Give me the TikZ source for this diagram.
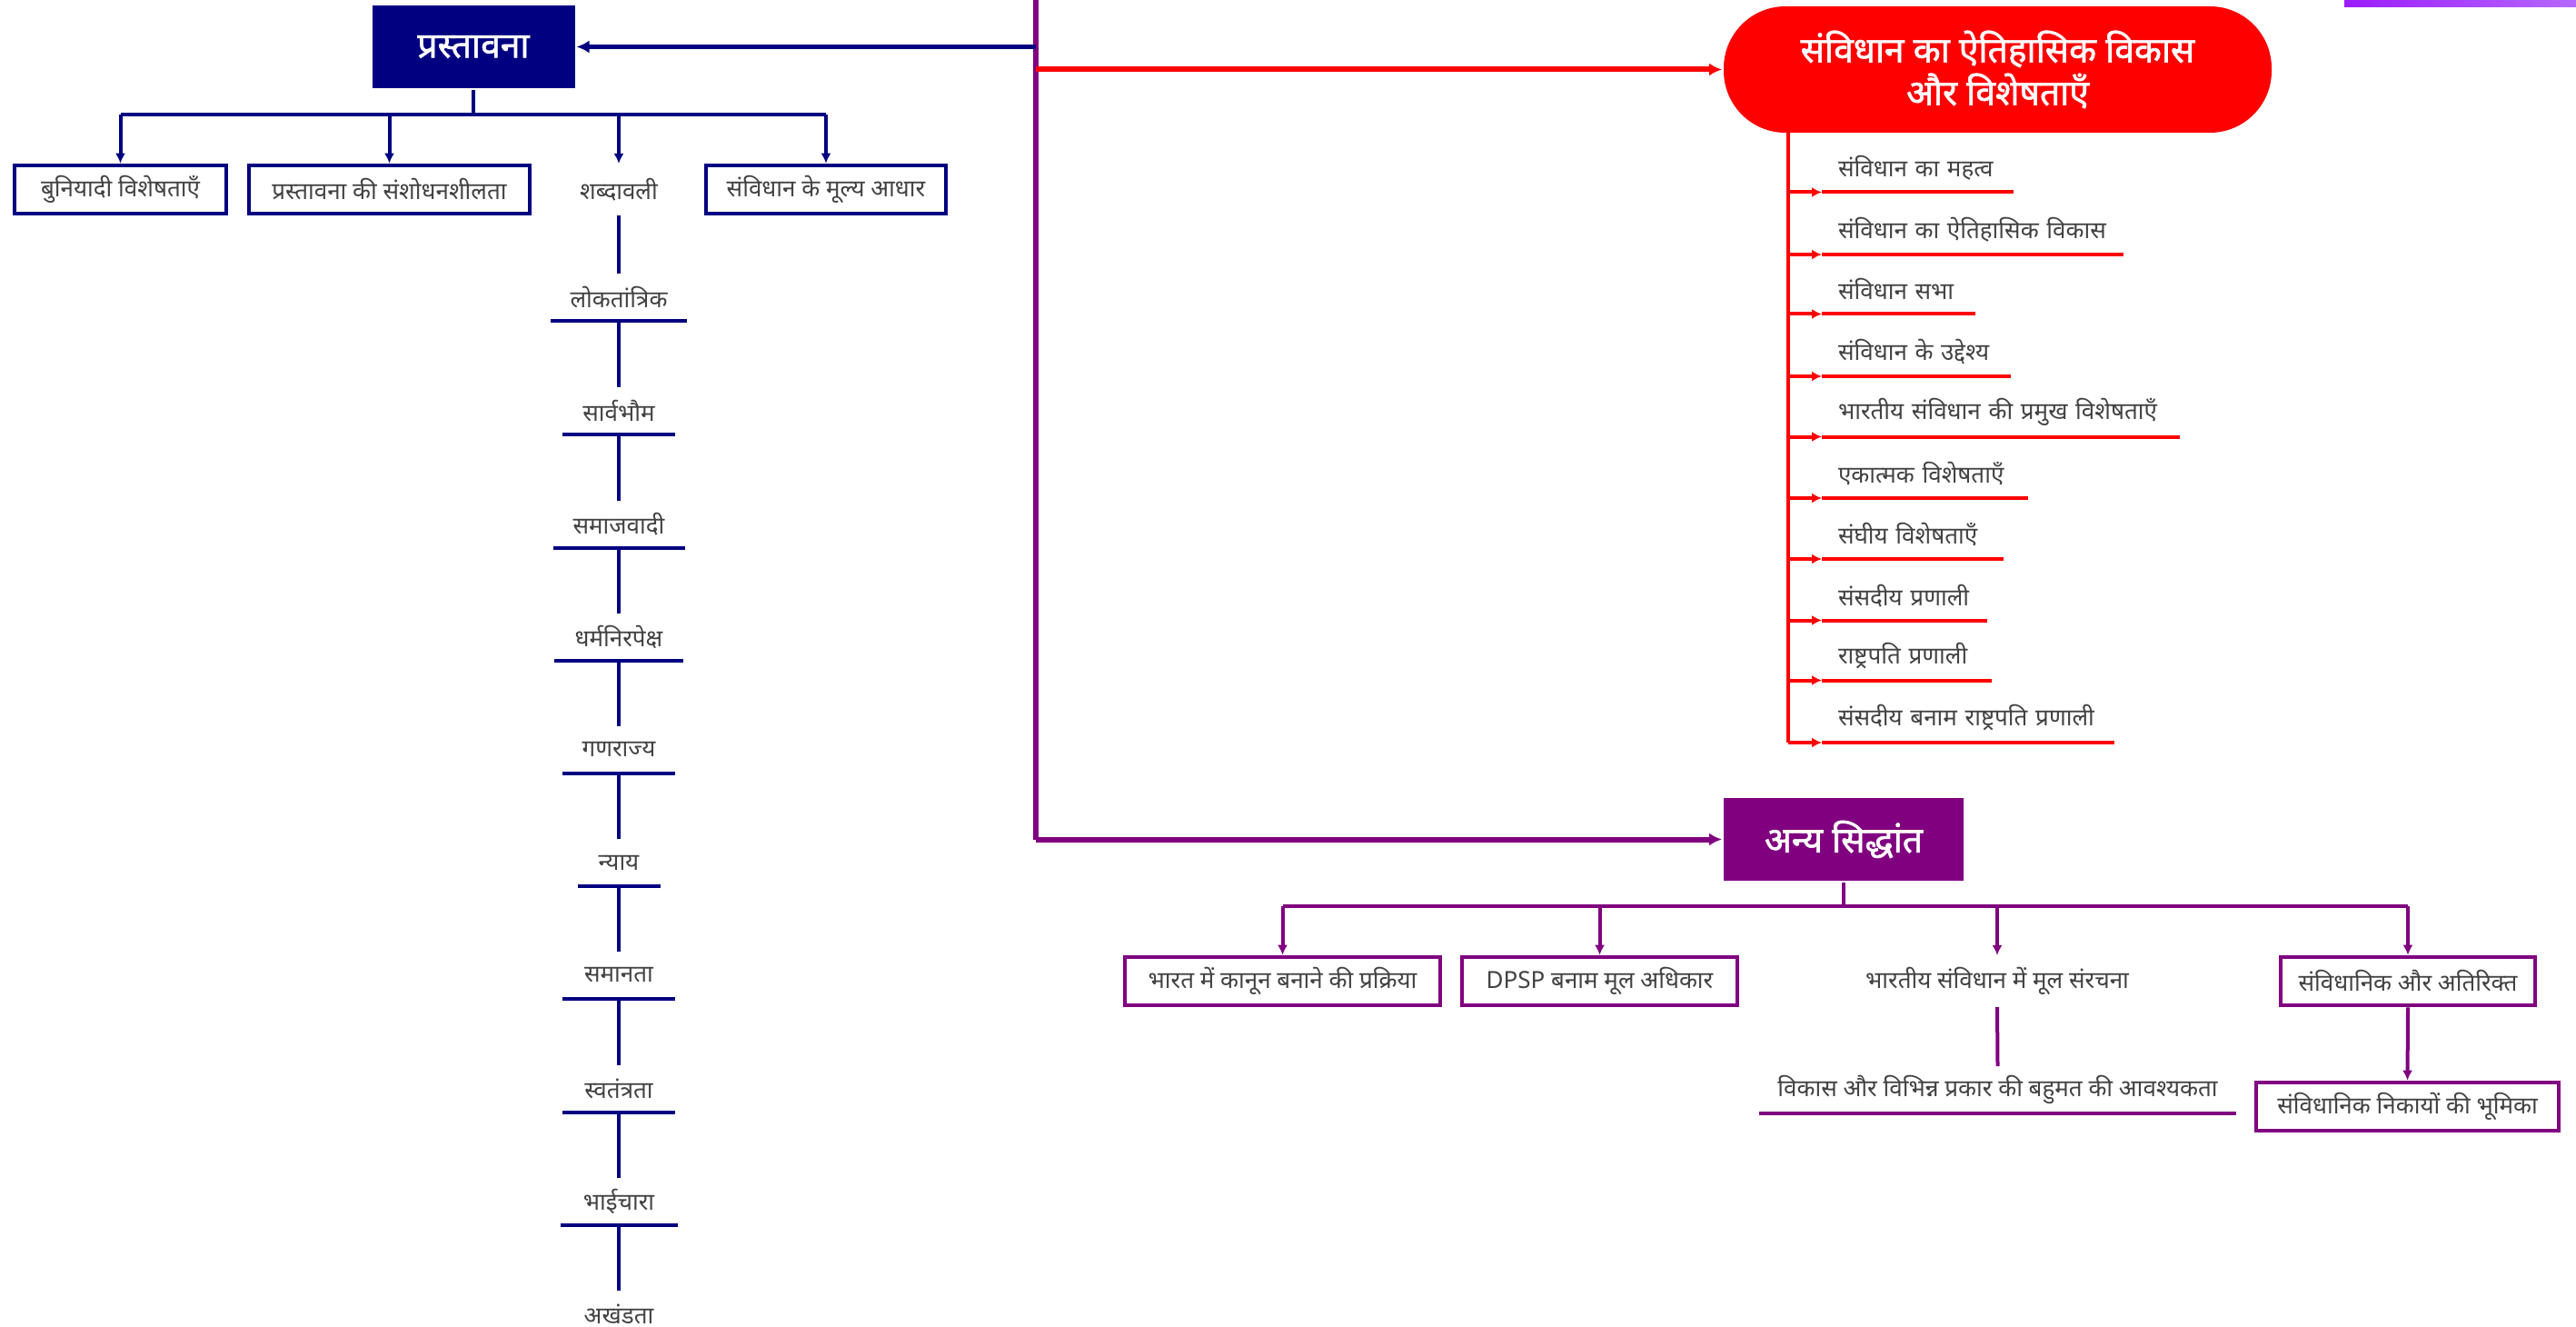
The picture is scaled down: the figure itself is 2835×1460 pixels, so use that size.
\documentclass[tikz,border=0pt]{standalone}
\usepackage{fontspec}
\setmainfont[Script=Devanagari]{Noto Sans}
\newfontfamily\shirshak[Script=Devanagari, FakeBold=1.6]{Noto Sans}
\usetikzlibrary{arrows.meta}
\definecolor{neela}{HTML}{000080}
\definecolor{baingani}{HTML}{800080}
\definecolor{laal}{HTML}{FF0000}
\definecolor{paath}{HTML}{424242}
\newcommand{\shirshfont}{\shirshak\fontsize{19.5}{23.5}\selectfont}
\newcommand{\paathfont}{\fontsize{13}{15}\selectfont}
\begin{document}
\begin{tikzpicture}[x=0.5pt, y=-0.5pt, line width=2pt,
  shirsh/.style={fill=#1, text=white, font=\shirshfont, minimum width=111.5pt, minimum height=45.5pt},
  dibba/.style={draw=#1, line width=2.3pt, text=paath, font=\paathfont, minimum height=26.5pt, inner sep=0pt},
  shabd/.style={text=paath, font=\paathfont, minimum height=24pt, inner sep=0pt},
  suchi/.style={anchor=south west, text=paath, font=\paathfont, text width=#1, align=left, inner xsep=8pt, inner ysep=0pt, minimum height=25pt},
  teer/.style={-{Latex[length=7pt, width=7pt]}},
  chhotateer/.style={-{Latex[length=5.5pt, width=5.5pt]}}]
  \useasboundingbox (0,0) rectangle (2835,1460);
  % ऊपर दाईं पट्टी
  \shade[left color={rgb,255:red,155;green,28;blue,255}, right color={rgb,255:red,182;green,104;blue,255}] (2580,0) rectangle (2835,8);
  % मुख्य शीर्षक
  \node[shirsh=neela] (prast) at (521,51.5) {प्रस्तावना};
  \node[fill=laal, text=white, font=\shirshfont, align=center, rounded corners=34pt,
        minimum width=301.5pt, minimum height=69.5pt] (itihas) at (2198.5,76.5)
        {संविधान का ऐतिहासिक विकास\\और विशेषताएँ};
  \node[shirsh=baingani, minimum width=132pt] (anya) at (2029,923.5) {अन्य सिद्धांत};
  % बीच की तना रेखा
  \coordinate (tanaUpar) at (1140,0);
  \coordinate (tanaNeeche) at (1140,923.5);
  \draw[baingani, line width=3pt] (tanaUpar) -- (tanaNeeche);
  \draw[neela, line width=2.6pt, teer] (tanaUpar |- prast.east) -- (prast.east);
  \draw[laal, line width=3pt, teer] (tanaUpar |- itihas.west) -- (itihas.west);
  \draw[baingani, line width=3pt, teer] (tanaNeeche) -- (anya.west);
  % प्रस्तावना · शाखाएँ
  \node[dibba=neela, minimum width=116.5pt] (buni) at (132.5,208.5) {बुनियादी विशेषताएँ};
  \node[dibba=neela, minimum width=154.5pt] (sansh) at (428.5,208.5) {प्रस्तावना की संशोधनशीलता};
  \node[shabd, minimum height=26.5pt] (shabdavali) at (681,208.5) {शब्दावली};
  \node[dibba=neela, minimum width=132pt] (mulya) at (909,208.5) {संविधान के मूल्य आधार};
  \coordinate (pBus) at (521,126);
  \draw[neela] (prast.south) -- (pBus);
  \draw[neela] (buni.north |- pBus) -- (mulya.north |- pBus);
  \draw[neela, chhotateer] (buni.north |- pBus) -- (buni.north);
  \draw[neela, chhotateer] (sansh.north |- pBus) -- (sansh.north);
  \draw[neela, chhotateer] (shabdavali.north |- pBus) -- (shabdavali.north);
  \draw[neela, chhotateer] (mulya.north |- pBus) -- (mulya.north);
  % शब्दावली · क्रम
  \node[shabd, minimum width=73pt] (lok) at (681,327.5) {लोकतांत्रिक};
  \node[shabd, minimum width=60pt] (sarv) at (681,452) {सार्वभौम};
  \node[shabd, minimum width=70.5pt] (samaj) at (681,576.5) {समाजवादी};
  \node[shabd, minimum width=69pt] (dharm) at (681,701) {धर्मनिरपेक्ष};
  \node[shabd, minimum width=60pt] (gana) at (681,824.5) {गणराज्य};
  \node[shabd, minimum width=43.5pt] (nyay) at (681,949) {न्याय};
  \node[shabd, minimum width=60pt] (saman) at (681,1073) {समानता};
  \node[shabd, minimum width=60pt] (svat) at (681,1198) {स्वतंत्रता};
  \node[shabd, minimum width=62.5pt] (bhai) at (681,1321.5) {भाईचारा};
  \node[shabd] (akhand) at (681,1445.5) {अखंडता};
  \draw[neela] (shabdavali.south) -- (lok.north);
  \draw[neela] (lok.south west) -- (lok.south east) (lok.south) -- (sarv.north);
  \draw[neela] (sarv.south west) -- (sarv.south east) (sarv.south) -- (samaj.north);
  \draw[neela] (samaj.south west) -- (samaj.south east) (samaj.south) -- (dharm.north);
  \draw[neela] (dharm.south west) -- (dharm.south east) (dharm.south) -- (gana.north);
  \draw[neela] (gana.south west) -- (gana.south east) (gana.south) -- (nyay.north);
  \draw[neela] (nyay.south west) -- (nyay.south east) (nyay.south) -- (saman.north);
  \draw[neela] (saman.south west) -- (saman.south east) (saman.south) -- (svat.north);
  \draw[neela] (svat.south west) -- (svat.south east) (svat.south) -- (bhai.north);
  \draw[neela] (bhai.south west) -- (bhai.south east) (bhai.south) -- (akhand.north);
  % ऐतिहासिक विकास · सूची
  \node[suchi=87.5pt] (s1) at (2005,211.5) {संविधान का महत्व};
  \node[suchi=148pt] (s2) at (2005,280) {संविधान का ऐतिहासिक विकास};
  \node[suchi=66.5pt] (s3) at (2005,345.5) {संविधान सभा};
  \node[suchi=86pt] (s4) at (2005,414) {संविधान के उद्देश्य};
  \node[suchi=179pt] (s5) at (2005,480.5) {भारतीय संविधान की प्रमुख विशेषताएँ};
  \node[suchi=95.5pt] (s6) at (2005,548) {एकात्मक विशेषताएँ};
  \node[suchi=82pt] (s7) at (2005,615) {संघीय विशेषताएँ};
  \node[suchi=73pt] (s8) at (2005,682.5) {संसदीय प्रणाली};
  \node[suchi=75.5pt] (s9) at (2005,748.5) {राष्ट्रपति प्रणाली};
  \node[suchi=143pt] (s10) at (2005,817) {संसदीय बनाम राष्ट्रपति प्रणाली};
  \coordinate (lalTana) at (1968,146);
  \draw[laal] (lalTana) -- (lalTana |- s10.south west);
  \draw[laal, chhotateer] (lalTana |- s1.south west) -- (s1.south west);
  \draw[laal] (s1.south west) -- (s1.south east);
  \draw[laal, chhotateer] (lalTana |- s2.south west) -- (s2.south west);
  \draw[laal] (s2.south west) -- (s2.south east);
  \draw[laal, chhotateer] (lalTana |- s3.south west) -- (s3.south west);
  \draw[laal] (s3.south west) -- (s3.south east);
  \draw[laal, chhotateer] (lalTana |- s4.south west) -- (s4.south west);
  \draw[laal] (s4.south west) -- (s4.south east);
  \draw[laal, chhotateer] (lalTana |- s5.south west) -- (s5.south west);
  \draw[laal] (s5.south west) -- (s5.south east);
  \draw[laal, chhotateer] (lalTana |- s6.south west) -- (s6.south west);
  \draw[laal] (s6.south west) -- (s6.south east);
  \draw[laal, chhotateer] (lalTana |- s7.south west) -- (s7.south west);
  \draw[laal] (s7.south west) -- (s7.south east);
  \draw[laal, chhotateer] (lalTana |- s8.south west) -- (s8.south west);
  \draw[laal] (s8.south west) -- (s8.south east);
  \draw[laal, chhotateer] (lalTana |- s9.south west) -- (s9.south west);
  \draw[laal] (s9.south west) -- (s9.south east);
  \draw[laal, chhotateer] (lalTana |- s10.south west) -- (s10.south west);
  \draw[laal] (s10.south west) -- (s10.south east);
  % अन्य सिद्धांत · शाखाएँ
  \node[dibba=baingani, minimum width=173.5pt] (kanoon) at (1411.5,1079.5) {भारत में कानून बनाने की प्रक्रिया};
  \node[dibba=baingani, minimum width=151.5pt] (dpsp) at (1760.5,1079.5) {DPSP बनाम मूल अधिकार};
  \node[shabd, minimum height=26.5pt] (mool) at (2198,1079.5) {भारतीय संविधान में मूल संरचना};
  \node[dibba=baingani, minimum width=140pt] (atirikt) at (2650,1079.5) {संविधानिक और अतिरिक्त};
  \coordinate (aBus) at (2029,997);
  \draw[baingani] (anya.south) -- (aBus);
  \draw[baingani] (kanoon.north |- aBus) -- (atirikt.north |- aBus);
  \draw[baingani, chhotateer] (kanoon.north |- aBus) -- (kanoon.north);
  \draw[baingani, chhotateer] (dpsp.north |- aBus) -- (dpsp.north);
  \draw[baingani, chhotateer] (mool.north |- aBus) -- (mool.north);
  \draw[baingani, chhotateer] (atirikt.north |- aBus) -- (atirikt.north);
  % नीचे की शाखाएँ
  \node[shabd, minimum width=260.5pt] (vikas) at (2198.5,1199) {विकास और विभिन्न प्रकार की बहुमत की आवश्यकता};
  \draw[baingani] (mool.south) -- (vikas.north);
  \draw[baingani] (vikas.south west) -- (vikas.south east);
  \node[dibba=baingani, minimum width=166.5pt] (nikay) at (2649.5,1217.5) {संविधानिक निकायों की भूमिका};
  \draw[baingani, chhotateer] (atirikt.south) -- (nikay.north);
\end{tikzpicture}
\end{document}
